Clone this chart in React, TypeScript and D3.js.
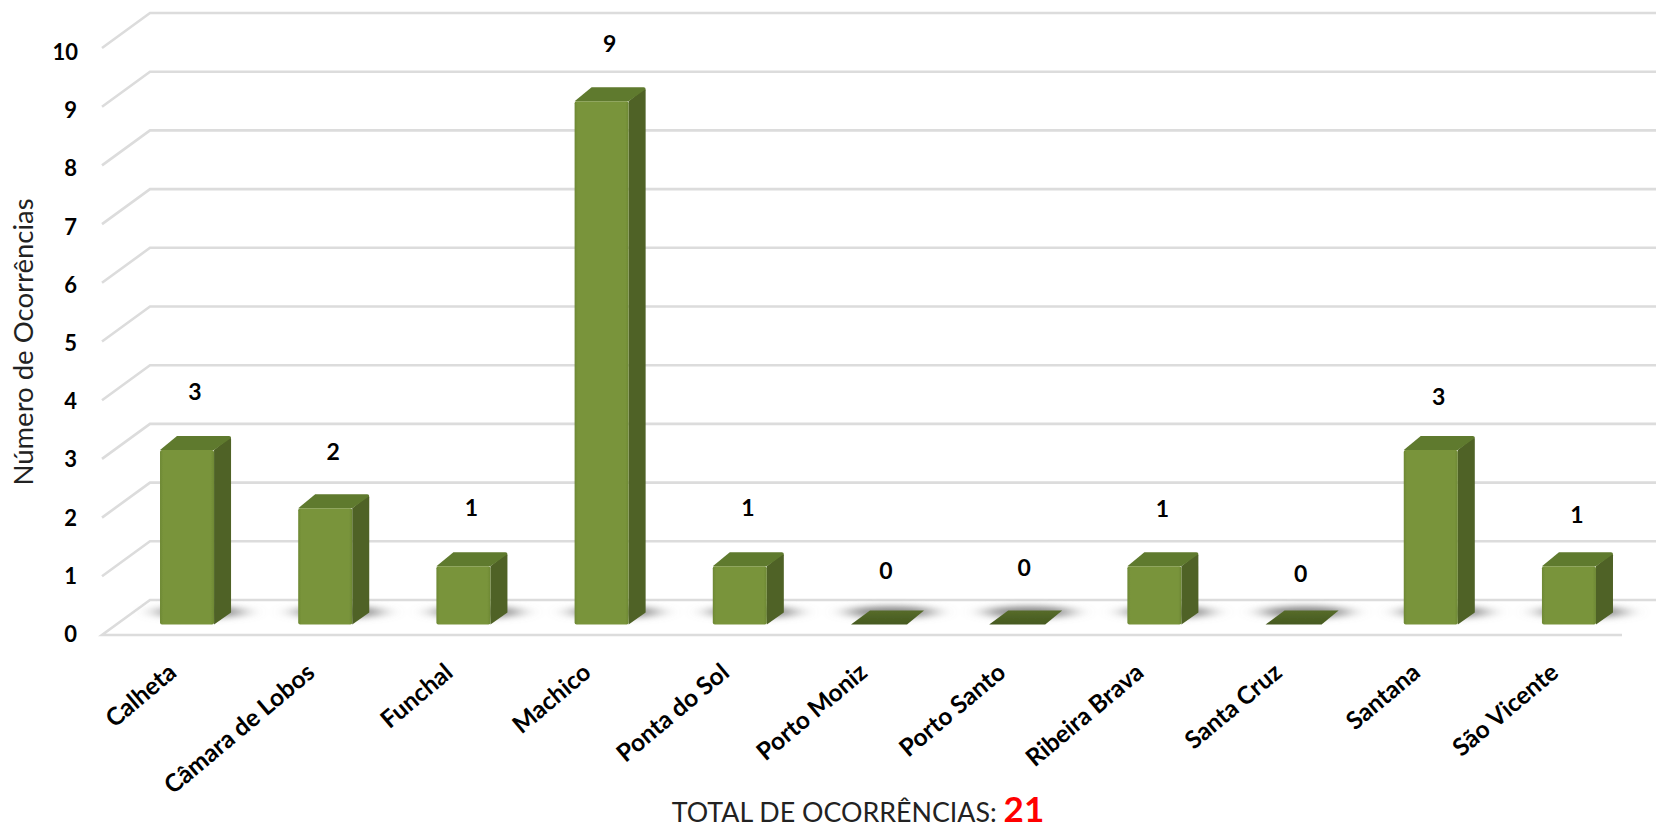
import React from "react";
import * as d3 from "d3";

const categories = ["Calheta", "Câmara de Lobos", "Funchal", "Machico", "Ponta do Sol", "Porto Moniz", "Porto Santo", "Ribeira Brava", "Santa Cruz", "Santana", "São Vicente"];
const values = [3, 2, 1, 9, 1, 0, 0, 1, 0, 3, 1];
const yTicks = d3.range(0, 11);
const labelLift = [50, 48, 50, 49, 50, 46, 49, 49, 43, 45, 43];
const total = 21;

const W = 1656, H = 829;
const x = d3.scaleBand<number>().domain(d3.range(categories.length)).range([118, 1638]).paddingInner(0.609).paddingOuter(0.304);
const gridY = d3.scaleLinear().domain([0, 10]).range([635, 48]);
const tickY = d3.scaleLinear().domain([0, 10]).range([642, 60]);
const barY = d3.scaleLinear().domain([0, 10]).range([624.5, 43]);
const DX = 17, DY = 14;
const FONT = "Lato, Carlito, sans-serif";

export default function App() {
  const bw = x.bandwidth();
  const xOf = (i: number) => x(i) as number;
  return (
    <svg width={W} height={H} viewBox={`0 0 ${W} ${H}`} style={{ position: "absolute", left: 0, top: 0, background: "#fff" }} fontFamily={FONT}>
      <defs>
        <filter id="shadow" x="-40%" y="-150%" width="180%" height="400%"><feGaussianBlur stdDeviation="11 3" /></filter>
        <filter id="soft" x="-5%" y="-5%" width="110%" height="110%"><feGaussianBlur stdDeviation="0.6" /></filter>
        <linearGradient id="front" x1="0" x2="1" y1="0" y2="0">
          <stop offset="0" stopColor="#6d8834" />
          <stop offset="0.06" stopColor="#79943b" />
          <stop offset="0.94" stopColor="#79943b" />
          <stop offset="1" stopColor="#6d8834" />
        </linearGradient>
        <linearGradient id="zero" x1="0" x2="0" y1="0" y2="1">
          <stop offset="0" stopColor="#566b2a" />
          <stop offset="1" stopColor="#465a20" />
        </linearGradient>
      </defs>
      <g stroke="#dcdcdc" strokeWidth={2.6} fill="none" filter="url(#soft)">
        {yTicks.map((t) => {
          const yF = gridY(t);
          const yB = yF - 35;
          return t === 0 ? (
            <path key={t} d={`M1622,${yF}H102L150,${yB}H1656`} />
          ) : (
            <path key={t} d={`M102,${yF}L150,${yB}H1656`} />
          );
        })}
      </g>
      <g filter="url(#shadow)">
        {values.map((v, i) => (
          <ellipse key={i} cx={xOf(i) + bw / 2 + 13} cy={612} rx={bw * 0.82} ry={6} fill="#8a8a8a" />
        ))}
      </g>
      <g filter="url(#soft)">
        {values.map((v, i) => {
          const x0 = xOf(i), x1 = x0 + bw, yb = barY(0), yt = barY(v);
          if (v === 0) {
            return <path key={i} d={`M${x0},${yb}L${x0 + 19},${yb - DY}H${x1 + 19}L${x1 + 2},${yb}Z`} fill="url(#zero)" />;
          }
          return (
            <g key={i}>
              <path d={`M${x1},${yb}V${yt}L${x1 + DX - 1},${yt - DY + 1}Q${x1 + DX},${yt - DY + 2} ${x1 + DX},${yt - DY + 3}V${yb - DY + 2}Z`} fill="#4f6226" />
              <path d={`M${x0},${yt}L${x0 + DX},${yt - DY}H${x1 + DX - 2}Q${x1 + DX},${yt - DY} ${x1 + DX},${yt - DY + 2}L${x1},${yt}Z`} fill="#5f7a2e" />
              <rect x={x0} y={yt} width={bw} height={yb - yt} rx={2} fill="url(#front)" />
            </g>
          );
        })}
      </g>
      <g fontWeight={700} fontSize={23} fill="#000" textAnchor="middle">
        {values.map((v, i) => (
          <text key={i} x={xOf(i) + bw / 2 + 8} y={barY(v) - labelLift[i]}>{v}</text>
        ))}
      </g>
      <g fontWeight={700} fontSize={22} fill="#000" textAnchor="end">
        {yTicks.map((t) => (
          <text key={t} x={t === 10 ? 78 : 77} y={tickY(t)}>{t}</text>
        ))}
      </g>
      <g fontWeight={700} fontSize={24.5} fill="#000" textAnchor="end">
        {categories.map((c, i) => (
          <text key={c} transform={`translate(${xOf(i) + bw / 2 - 9},${675}) rotate(-40)`}>{c}</text>
        ))}
      </g>
      <text transform="translate(33,342) rotate(-90)" textAnchor="middle" fontSize={27.5} fill="#222">Número de Ocorrências</text>
      <text x={858} y={822} textAnchor="middle" fontSize={26.8} fill="#222">
        TOTAL DE OCORRÊNCIAS: <tspan fontSize={35} fontWeight={700} fill="#f00">{total}</tspan>
      </text>
    </svg>
  );
}
